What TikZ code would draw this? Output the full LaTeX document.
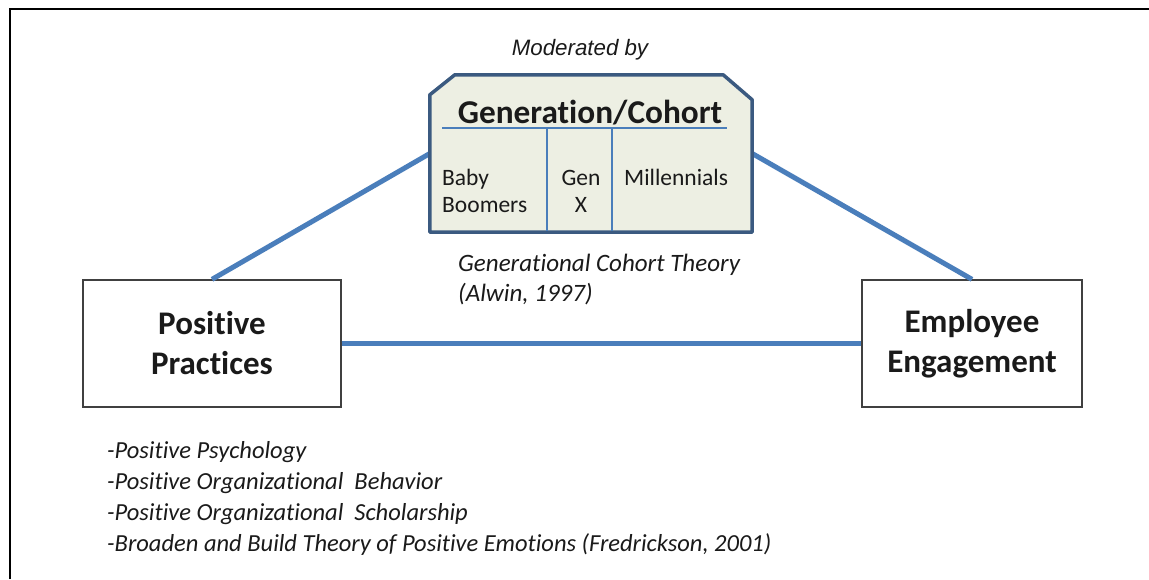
\documentclass[tikz,border=0pt]{standalone}
\usepackage{fontspec}
\setmainfont{Carlito}[RawFeature=-liga]
\newfontfamily\arialfont{Liberation Sans}
\usetikzlibrary{calc}

\definecolor{linkblue}{HTML}{4A7EBB}
\definecolor{genedge}{HTML}{3B5A80}
\definecolor{genfill}{HTML}{EDEFE3}
\definecolor{boxedge}{HTML}{404040}
\definecolor{inktext}{HTML}{1A1A1A}

\begin{document}
\begin{tikzpicture}[x=1pt,y=-1pt,
  link/.style={draw=linkblue, line width=5pt},
  conceptbox/.style={draw=boxedge, line width=1.3pt, fill=white,
    minimum height=127pt, align=center, text=inktext,
    font=\fontsize{33}{40}\selectfont\bfseries},
  cellline/.style={draw=linkblue, line width=1.2pt},
  celltext/.style={inner sep=0pt, text=inktext, font=\fontsize{23.5}{27}\selectfont},
  notetext/.style={inner sep=0pt, anchor=base west, text=inktext,
    font=\fontsize{24.5}{28}\selectfont\itshape},
]
\useasboundingbox (0,0) rectangle (1149,579);
\fill[white] (0,0) rectangle (1149,579);
% outer frame (top and left edges)
\draw[black, line width=1.5pt] (10,579) -- (10,9) -- (1149,9);

% the three concepts
\node[conceptbox, minimum width=258pt] (pp) at (212,343.5) {Positive\\Practices};
\node[conceptbox, minimum width=220pt] (ee) at (972,343.5) {Employee\\Engagement};
\node[minimum width=322pt, minimum height=157pt, inner sep=0pt] (gen) at (591,153.5) {};

% connectors
\draw[link] (pp.north) -- (gen.west);
\draw[link] (gen.east) -- (ee.north);
\draw[link] (pp.east) -- (ee.west);

% moderator box with chamfered top corners
\draw[draw=genedge, fill=genfill, line width=3.5pt, line join=round]
  ([xshift=25pt]gen.north west) -- ([xshift=-29pt]gen.north east)
  -- ([yshift=-25pt]gen.north east) -- (gen.south east)
  -- (gen.south west) -- ([yshift=-20pt]gen.north west) -- cycle;
\draw[cellline] (442,128) -- (727,128);
\draw[cellline] (547,128) -- (547,231);
\draw[cellline] (612,128) -- (612,231);

\node[inner sep=0pt, anchor=base, text=inktext, font=\fontsize{33.3}{36}\selectfont\bfseries]
  (gtitle) at (590,123) {Generation/Cohort};
\node[celltext, anchor=base west] (bb1) at (442,185) {Baby};
\node[celltext, anchor=base west] (bb2) at (442,212) {Boomers};
\node[celltext, anchor=base] (gx1) at (581,185) {Gen};
\node[celltext, anchor=base] (gx2) at (581,212) {X};
\node[celltext, anchor=base west] (mil) at (624,185) {Millennials};

% annotations
\node[inner sep=0pt, anchor=base, text=inktext, font=\arialfont\fontsize{22.3}{26}\selectfont\itshape]
  (mod) at (580,55) {Moderated by};
\node[notetext, font=\fontsize{25}{28}\selectfont\itshape] (gct1) at (458,271) {Generational Cohort Theory};
\node[notetext, font=\fontsize{25}{28}\selectfont\itshape] (gct2) at (458,301) {(Alwin, 1997)};

\node[notetext] (b1) at (107,458) {-Positive Psychology};
\node[notetext] (b2) at (107,489) {-Positive Organizational~ Behavior};
\node[notetext] (b3) at (107,520) {-Positive Organizational~ Scholarship};
\node[notetext] (b4) at (107,551) {-Broaden and Build Theory of Positive Emotions (Fredrickson, 2001)};
\end{tikzpicture}
\end{document}
